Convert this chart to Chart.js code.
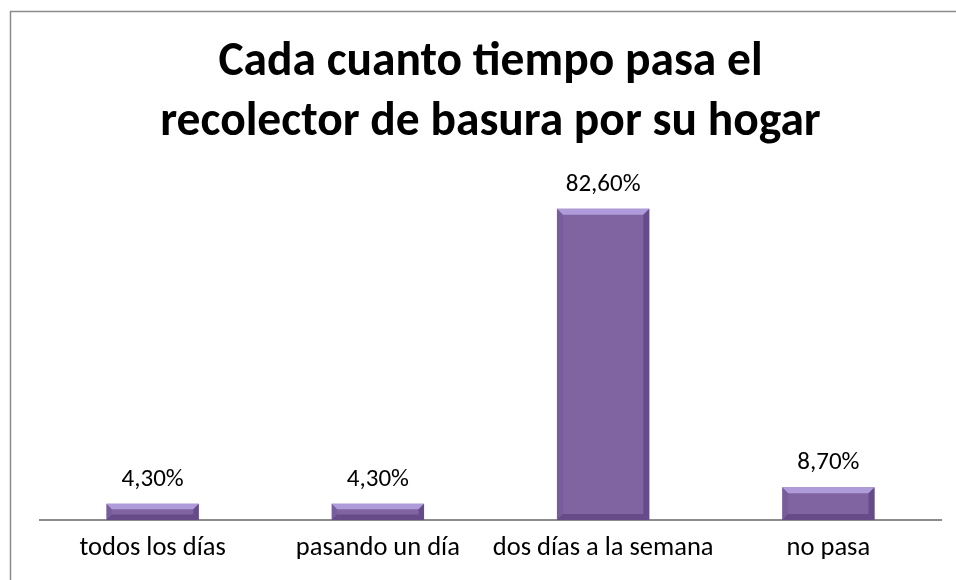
<!DOCTYPE html>
<html>
<head>
<meta charset="utf-8">
<script src="https://cdn.jsdelivr.net/npm/chart.js@4/dist/chart.umd.min.js"></script>
<style>
  html, body { margin: 0; padding: 0; background: #fff; }
  #wrap { position: relative; width: 956px; height: 580px; }
</style>
</head>
<body>
<div id="wrap"><canvas id="myBarChart" width="956" height="580"></canvas></div>
<script>
// Chart values
var categories = ["todos los días", "pasando un día", "dos días a la semana", "no pasa"];
var percentages = [4.3, 4.3, 82.6, 8.7];
var titleLines = ["Cada cuanto tiempo pasa el", "recolector de basura por su hogar"];

var fontFamily = "Carlito, Lato, 'Open Sans', sans-serif";

// Frame line on the left and top of the chart
var framePlugin = {
    id: 'frame',
    beforeDraw: function (chart) {
        var c = chart.ctx;
        c.save();
        c.strokeStyle = '#8c8c8c';
        c.lineWidth = 1.5;
        c.beginPath();
        c.moveTo(10.5, 580);
        c.lineTo(10.5, 11.5);
        c.lineTo(956, 11.5);
        c.stroke();
        c.restore();
    }
};

// Beveled look on each bar plus the value above it
var bevelPlugin = {
    id: 'bevel',
    afterDatasetsDraw: function (chart) {
        var c = chart.ctx;
        var meta = chart.getDatasetMeta(0);
        c.save();
        meta.data.forEach(function (bar, i) {
            var left = bar.x - bar.width / 2;
            var right = bar.x + bar.width / 2;
            var top = bar.y;
            var bottom = bar.base;
            var h = bottom - top;
            var b = Math.min(6, h / 3);

            // top highlight
            c.fillStyle = 'rgba(185,165,228,0.85)';
            c.beginPath();
            c.moveTo(left, top);
            c.lineTo(right, top);
            c.lineTo(right - b, top + b);
            c.lineTo(left + b, top + b);
            c.closePath();
            c.fill();

            // left side
            c.fillStyle = 'rgba(110,85,150,0.45)';
            c.beginPath();
            c.moveTo(left, top);
            c.lineTo(left + b, top + b);
            c.lineTo(left + b, bottom - b);
            c.lineTo(left, bottom);
            c.closePath();
            c.fill();

            // right side
            c.fillStyle = 'rgba(80,55,120,0.55)';
            c.beginPath();
            c.moveTo(right, top);
            c.lineTo(right - b, top + b);
            c.lineTo(right - b, bottom - b);
            c.lineTo(right, bottom);
            c.closePath();
            c.fill();

            // bottom shade
            c.fillStyle = 'rgba(75,50,110,0.5)';
            c.beginPath();
            c.moveTo(left, bottom);
            c.lineTo(left + b, bottom - b);
            c.lineTo(right - b, bottom - b);
            c.lineTo(right, bottom);
            c.closePath();
            c.fill();

            // value label
            c.fillStyle = '#000';
            c.font = '25px ' + fontFamily;
            c.textAlign = 'center';
            c.textBaseline = 'middle';
            c.fillText(percentages[i].toFixed(2).replace('.', ',') + '%', bar.x, top - 24);
        });
        c.restore();
    }
};

var ctx = document.getElementById("myBarChart").getContext('2d');

var myBarChart = new Chart(ctx, {
    type: 'bar',
    data: {
        labels: categories,
        datasets: [{
            data: percentages,
            backgroundColor: '#8064a2',
            borderWidth: 0,
            categoryPercentage: 1,
            barPercentage: 0.41
        }]
    },
    options: {
        responsive: false,
        animation: false,
        layout: { padding: { top: 16, left: 40, right: 15, bottom: 0 } },
        plugins: {
            legend: { display: false },
            tooltip: { enabled: false },
            title: {
                display: true,
                text: titleLines,
                color: '#000',
                font: { family: fontFamily, size: 47.5, weight: 'bold', lineHeight: 1.263 },
                padding: { top: 17.5, bottom: 27.5 }
            }
        },
        scales: {
            x: {
                grid: { display: false },
                border: { display: true, color: '#8c8c8c', width: 2 },
                ticks: {
                    color: '#000',
                    font: { family: fontFamily, size: 26.5 },
                    padding: 4,
                    maxRotation: 0,
                    minRotation: 0,
                    autoSkip: false
                },
                afterFit: function (scale) { scale.height = 60; }
            },
            y: {
                display: false,
                min: 0,
                max: 90
            }
        }
    },
    plugins: [framePlugin, bevelPlugin]
});
</script>
</body>
</html>
